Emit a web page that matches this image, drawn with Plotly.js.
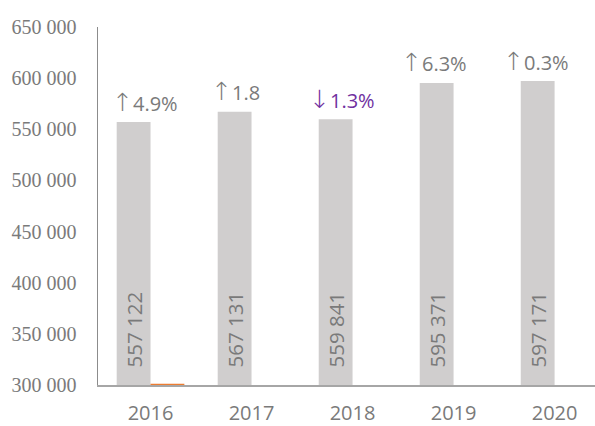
<!DOCTYPE html>
<html>
<head>
<meta charset="utf-8">
<script src="https://cdn.plot.ly/plotly-3.0.1.min.js"></script>
<style>html,body{margin:0;padding:0;background:#fff;overflow:hidden}#chart{width:595px;height:426px}</style>
</head>
<body>
<div id="chart"></div>
<script>
// ---- data ----
const years = ['2016', '2017', '2018', '2019', '2020'];
const values = [557122, 567131, 559841, 595371, 597171];
const changeArrows = ['↑', '↑', '↓', '↑', '↑'];
const changeTexts = ['4.9%', '1.8', '1.3%', '6.3%', '0.3%'];
const changeDown = [false, false, true, false, false];
const orangeValues = [301300, null, null, null, null];
const yTicks = [300000, 350000, 400000, 450000, 500000, 550000, 600000, 650000];

// ---- styling (not data) ----
const grayText = '#7a7a7a';
const purple = '#7030a0';
const changeShift = [-6, -16, -11, -20, -19];

function fmt(v) {
  return String(v).replace(/\B(?=(\d{3})+(?!\d))/g, ' ');
}

const traces = [
  {type: 'bar', x: years, y: values, marker: {color: '#d0cece'}, hoverinfo: 'skip'},
  {type: 'bar', x: years, y: orangeValues, marker: {color: '#ed7d31'}, hoverinfo: 'skip'}
];

const annotations = [];
years.forEach((yr, i) => {
  annotations.push({
    x: i, y: 300000, xref: 'x', yref: 'y',
    text: fmt(values[i]), showarrow: false, textangle: -90,
    xanchor: 'center', yanchor: 'bottom', xshift: -17, yshift: 15,
    font: {family: 'Open Sans', size: 20.5, color: grayText}
  });
  annotations.push({
    x: i, y: values[i], xref: 'x', yref: 'y',
    text: '<span style="font-family:DejaVu Sans;font-weight:200;font-size:25px">' + changeArrows[i] + '</span>' + changeTexts[i],
    showarrow: false,
    xanchor: 'center', yanchor: 'middle', xshift: changeShift[i], yshift: 20,
    font: {family: 'Open Sans', size: 20, color: changeDown[i] ? purple : grayText}
  });
});

const layout = {
  width: 595, height: 426,
  margin: {l: 98, r: 0, t: 27, b: 41, pad: 0},
  paper_bgcolor: '#ffffff', plot_bgcolor: '#ffffff',
  showlegend: false,
  barmode: 'group', bargap: 0.33, bargroupgap: 0,
  separators: '. ',
  xaxis: {
    type: 'category', range: [-0.52, 4.4],
    showline: true, linecolor: '#a6a6a6', linewidth: 1.5,
    showgrid: false, zeroline: false, ticks: '',
    ticklabelstandoff: 9,
    tickfont: {family: 'Open Sans', size: 20, color: grayText}
  },
  yaxis: {
    range: [300000, 650000], tickvals: yTicks, tickformat: ',d',
    showline: true, linecolor: '#8c8c8c', linewidth: 1.5,
    showgrid: false, zeroline: false, ticks: '',
    ticklabelstandoff: 16,
    tickfont: {family: 'Liberation Serif', size: 20, color: grayText}
  },
  annotations: annotations
};

Plotly.newPlot('chart', traces, layout, {staticPlot: true, displayModeBar: false});
</script>
</body>
</html>
